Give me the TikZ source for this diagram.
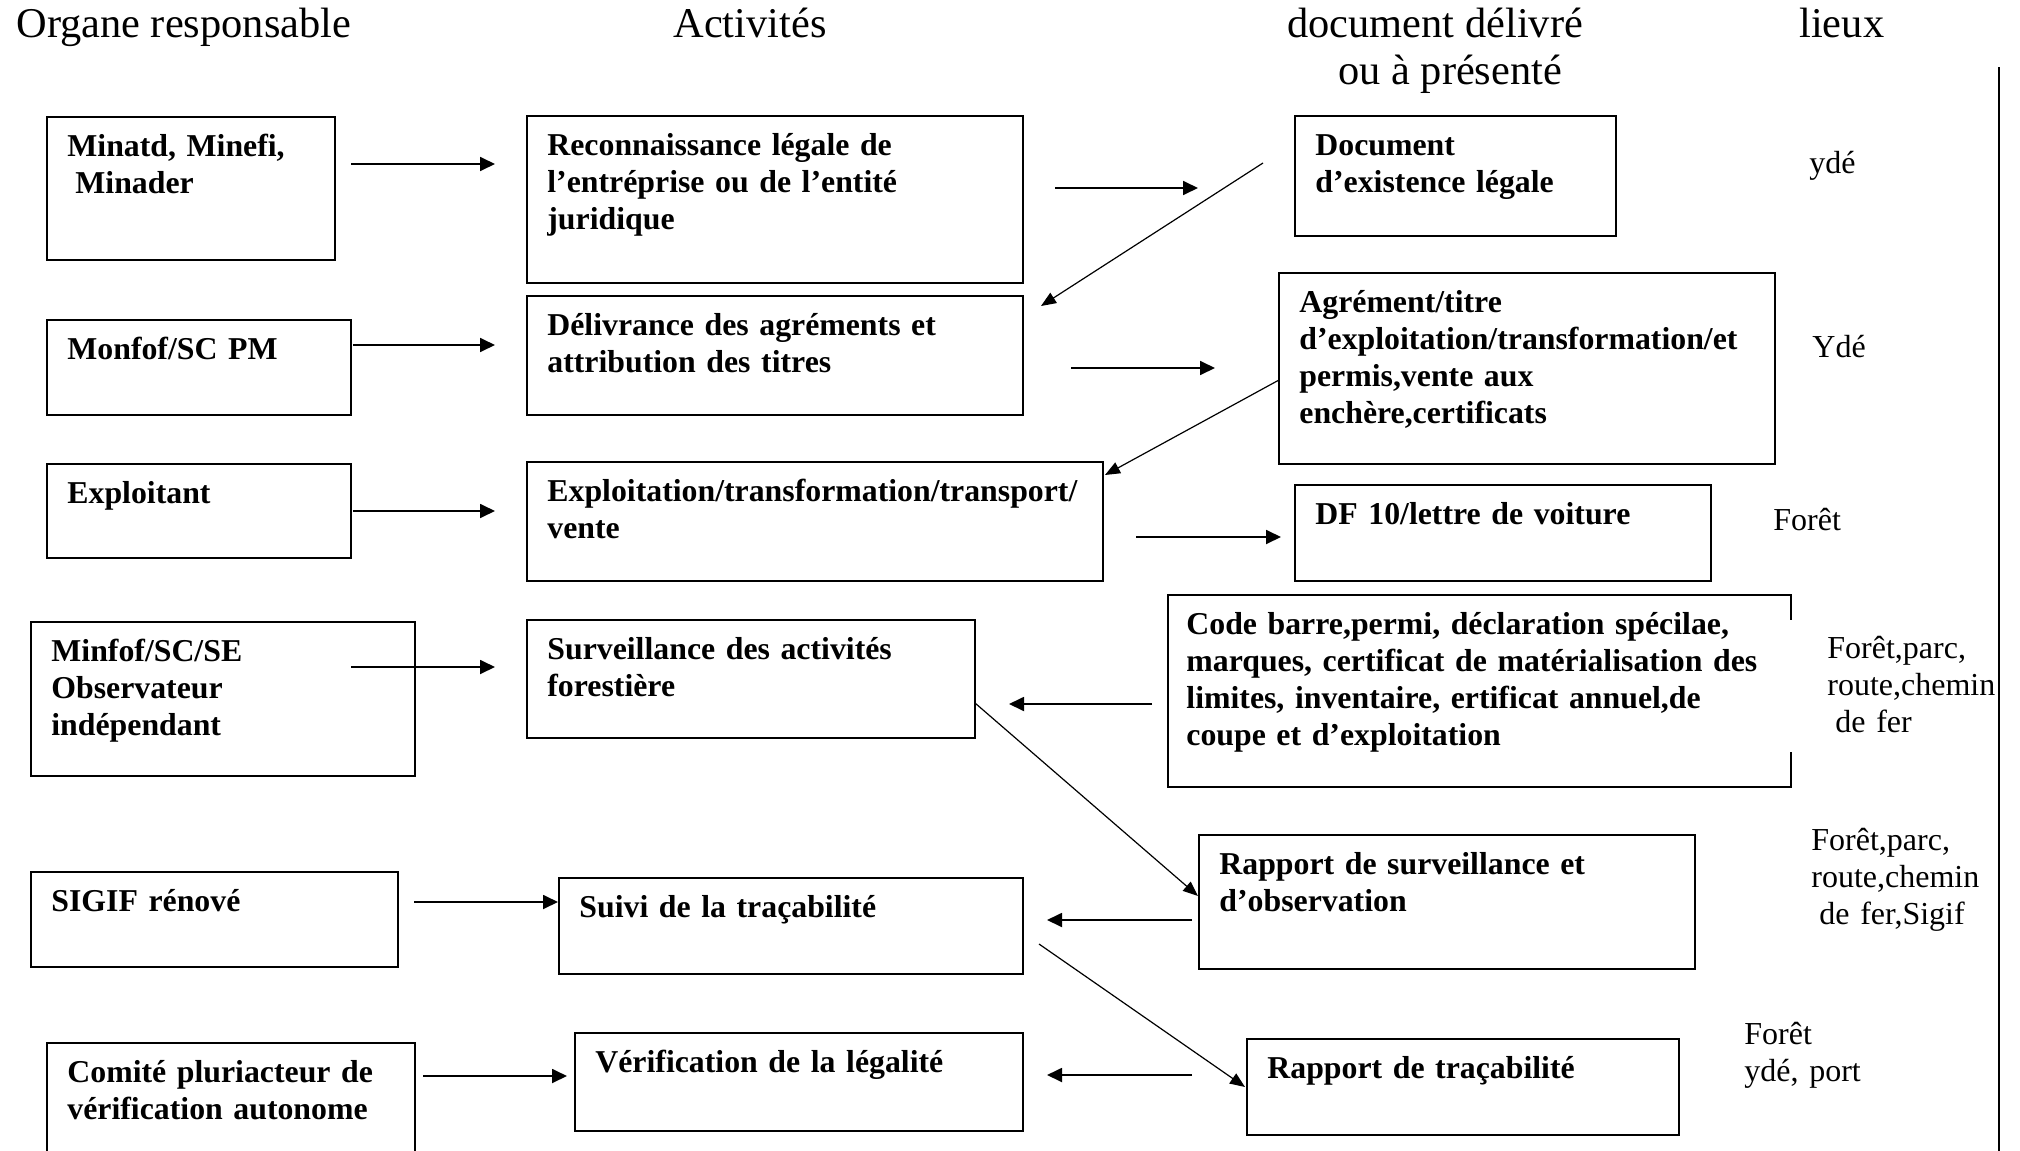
\documentclass[tikz,border=0pt]{standalone}
\usepackage{fontspec}
\setmainfont{Liberation Serif}
\usetikzlibrary{arrows.meta,fit}
\tikzset{
  box/.style={draw, line width=1pt, inner sep=0pt, fit={#1}},
  btxt/.style={anchor=base west, inner sep=0pt, align=left, text width=320pt,
    font=\fontsize{15.9}{18.5}\selectfont\bfseries},
  ltxt/.style={anchor=base west, inner sep=0pt, align=left, text width=120pt,
    font=\fontsize{16}{18.5}\selectfont},
  htxt/.style={anchor=base west, inner sep=0pt, font=\fontsize{21.2}{25}\selectfont},
  harr/.style={line width=0.9pt, -{Triangle[length=7.5pt,width=7pt]}},
  darr/.style={line width=0.6pt, -{Triangle[length=7.5pt,width=6pt]}}
}
\begin{document}
\begin{tikzpicture}[x=0.5pt,y=-0.5pt]
\useasboundingbox (0,0) rectangle (2020,1151);
\clip (0,0) rectangle (2020,1151);
% headers
\node[htxt] (h1) at (16,38) {Organe responsable};
\node[htxt] (h2) at (673,38) {Activités};
\node[htxt] (h3) at (1287,38) {document délivré};
\node[htxt] (h4) at (1338,84) {ou à présenté};
\node[htxt] (h5) at (1799,38) {lieux};
\coordinate (vt) at (1999,67);
\coordinate (vb) at (1999,1160);
\draw[line width=1pt] (vt) -- (vb);
% left column
\node[box={(47,117) (335,260)}] (o1) {};
\node[box={(47,320) (351,415)}] (o2) {};
\node[box={(47,464) (351,558)}] (o3) {};
\node[box={(31,622) (415,776)}] (o4) {};
\node[box={(31,872) (398,967)}] (o5) {};
\node[box={(47,1043) (415,1170)}] (o6) {};
% middle column
\node[box={(527,116) (1023,283)}] (a1) {};
\node[box={(527,296) (1023,415)}] (a2) {};
\node[box={(527,462) (1103,581)}] (a3) {};
\node[box={(527,620) (975,738)}] (a4) {};
\node[box={(559,878) (1023,974)}] (a5) {};
\node[box={(575,1033) (1023,1131)}] (a6) {};
% right column
\node[box={(1295,116) (1616,236)}] (d1) {};
\node[box={(1279,273) (1775,464)}] (d2) {};
\node[box={(1295,485) (1711,581)}] (d3) {};
\node[box={(1168,595) (1791,787)}] (d4) {};
\draw[white, line width=2.5pt] (1791,620) -- (1791,752);
\node[box={(1199,835) (1695,969)}] (d5) {};
\node[box={(1247,1039) (1679,1135)}] (d6) {};
% texts
\node[btxt] (to1) at ([shift={(21,40)}]o1.north west) {Minatd, Minefi,\\\hspace*{4pt}Minader};
\node[btxt] (to2) at ([shift={(21,40)}]o2.north west) {Monfof/SC PM};
\node[btxt] (to3) at ([shift={(21,40)}]o3.north west) {Exploitant};
\node[btxt] (to4) at ([shift={(21,40)}]o4.north west) {Minfof/SC/SE\\Observateur\\indépendant};
\node[btxt] (to5) at ([shift={(21,40)}]o5.north west) {SIGIF rénové};
\node[btxt] (to6) at ([shift={(21,40)}]o6.north west) {Comité pluriacteur de\\vérification autonome};
\node[btxt] (ta1) at ([shift={(21,40)}]a1.north west) {Reconnaissance légale de\\l’entréprise ou de l’entité\\juridique};
\node[btxt] (ta2) at ([shift={(21,40)}]a2.north west) {Délivrance des agréments et\\attribution des titres};
\node[btxt] (ta3) at ([shift={(21,40)}]a3.north west) {Exploitation/transformation/transport/\\vente};
\node[btxt] (ta4) at ([shift={(21,40)}]a4.north west) {Surveillance des activités\\forestière};
\node[btxt] (ta5) at ([shift={(21,40)}]a5.north west) {Suivi de la traçabilité};
\node[btxt] (ta6) at ([shift={(21,40)}]a6.north west) {Vérification de la légalité};
\node[btxt] (td1) at ([shift={(21,40)}]d1.north west) {Document\\d’existence légale};
\node[btxt] (td2) at ([shift={(21,40)}]d2.north west) {Agrément/titre\\d’exploitation/transformation/et\\permis,vente aux\\enchère,certificats};
\node[btxt] (td3) at ([shift={(21,40)}]d3.north west) {DF 10/lettre de voiture};
\node[btxt] (td4) at ([shift={(19,40)}]d4.north west) {Code barre,permi, déclaration spécilae,\\marques, certificat de matérialisation des\\limites, inventaire, ertificat annuel,de\\coupe et d’exploitation};
\node[btxt] (td5) at ([shift={(21,40)}]d5.north west) {Rapport de surveillance et\\d’observation};
\node[btxt] (td6) at ([shift={(21,40)}]d6.north west) {Rapport de traçabilité};
% lieux
\node[ltxt] (l1) at (1809,173) {ydé};
\node[ltxt] (l2) at (1812,357) {Ydé};
\node[ltxt] (l3) at (1773,530) {Forêt};
\node[ltxt] (l4) at (1827,658) {Forêt,parc,\\route,chemin\\\hspace*{4pt}de fer};
\node[ltxt] (l5) at (1811,850) {Forêt,parc,\\route,chemin\\\hspace*{4pt}de fer,Sigif};
\node[ltxt] (l6) at (1744,1044) {Forêt\\ydé, port};
% arrow coordinates
\coordinate (r1s) at (351,164);  \coordinate (r1e) at (495,164);
\coordinate (r2s) at (353,345);  \coordinate (r2e) at (495,345);
\coordinate (r3s) at (353,511);  \coordinate (r3e) at (495,511);
\coordinate (r4s) at (351,667);  \coordinate (r4e) at (495,667);
\coordinate (r5s) at (414,902);  \coordinate (r5e) at (558,902);
\coordinate (r6s) at (423,1076); \coordinate (r6e) at (567,1076);
\coordinate (m1s) at (1055,188); \coordinate (m1e) at (1198,188);
\coordinate (m2s) at (1071,368); \coordinate (m2e) at (1215,368);
\coordinate (m3s) at (1136,537); \coordinate (m3e) at (1281,537);
\coordinate (g1s) at (1263,163); \coordinate (g1e) at (1041,306);
\coordinate (g2s) at (1279,380); \coordinate (g2e) at (1105,475);
\coordinate (b1s) at (1152,704); \coordinate (b1e) at (1009,704);
\coordinate (g3s) at (975,703);  \coordinate (g3e) at (1198,896);
\coordinate (b2s) at (1192,920); \coordinate (b2e) at (1047,920);
\coordinate (g4s) at (1039,944); \coordinate (g4e) at (1245,1087);
\coordinate (b3s) at (1192,1075); \coordinate (b3e) at (1047,1075);
% arrows
\draw[harr] (r1s) -- (r1e);
\draw[harr] (r2s) -- (r2e);
\draw[harr] (r3s) -- (r3e);
\draw[harr] (r4s) -- (r4e);
\draw[harr] (r5s) -- (r5e);
\draw[harr] (r6s) -- (r6e);
\draw[harr] (m1s) -- (m1e);
\draw[harr] (m2s) -- (m2e);
\draw[harr] (m3s) -- (m3e);
\draw[harr] (b1s) -- (b1e);
\draw[harr] (b2s) -- (b2e);
\draw[harr] (b3s) -- (b3e);
\draw[darr] (g1s) -- (g1e);
\draw[darr] (g2s) -- (g2e);
\draw[darr] (g3s) -- (g3e);
\draw[darr] (g4s) -- (g4e);
\end{tikzpicture}
\end{document}
